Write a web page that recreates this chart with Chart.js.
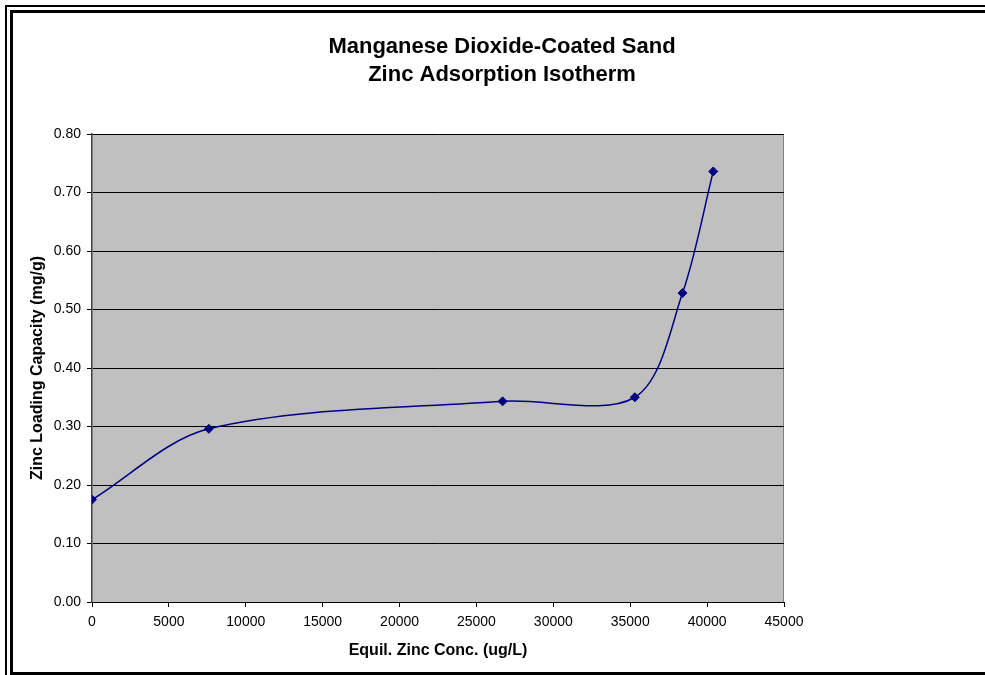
<!DOCTYPE html>
<html>
<head>
<meta charset="utf-8">
<script src="https://cdn.jsdelivr.net/npm/chart.js@4.4.1/dist/chart.umd.min.js"></script>
<style>
  html, body { margin: 0; padding: 0; background: #ffffff; }
  #wrap { width: 985px; height: 675px; position: relative; }
</style>
</head>
<body>
<div id="wrap"><canvas id="chart" width="985" height="675"></canvas></div>
<script>
// Equilibrium zinc concentration (ug/L) and zinc loading capacity (mg/g)
const concUgL = [0, 7600, 26700, 35300, 38400, 40400];
const loadingMgG = [0.175, 0.296, 0.343, 0.350, 0.528, 0.736];

const titleLines = ['Manganese Dioxide-Coated Sand', 'Zinc Adsorption Isotherm'];
const xAxisTitle = 'Equil. Zinc Conc. (ug/L)';
const yAxisTitle = 'Zinc Loading Capacity (mg/g)';

const xTickMin = 0, xTickMax = 45000, xTickStep = 5000;
const yTickMin = 0, yTickMax = 0.8, yTickStep = 0.1;

const FONT = '"Liberation Sans", Arial, sans-serif';

// Double frame, grey plot background and the two-line chart title
const decorations = {
  id: 'decorations',
  beforeDraw(chart) {
    const { ctx, chartArea: a } = chart;
    ctx.save();
    ctx.fillStyle = '#ffffff';
    ctx.fillRect(0, 0, chart.width, chart.height);
    // outer frame line
    ctx.fillStyle = '#000000';
    ctx.fillRect(5, 5, chart.width - 5, 2);
    ctx.fillRect(5, 5, 2, chart.height - 5);
    // inner frame line
    ctx.fillRect(10, 10, chart.width - 10, 3);
    ctx.fillRect(10, 10, 3, chart.height - 13);
    ctx.fillRect(10, chart.height - 3, chart.width - 10, 3);
    // plot area
    ctx.fillStyle = '#c0c0c0';
    ctx.fillRect(a.left, a.top, a.right - a.left, a.bottom - a.top);
    ctx.strokeStyle = '#808080';
    ctx.lineWidth = 1;
    ctx.beginPath();
    ctx.moveTo(a.left, a.top + 0.5);
    ctx.lineTo(a.right - 0.5, a.top + 0.5);
    ctx.lineTo(a.right - 0.5, a.bottom);
    ctx.stroke();
    // title
    ctx.fillStyle = '#000000';
    ctx.font = 'bold 22px ' + FONT;
    ctx.textAlign = 'center';
    ctx.textBaseline = 'middle';
    ctx.fillText(titleLines[0], 502, 47);
    ctx.fillText(titleLines[1], 502, 75);
    ctx.restore();
  }
};

new Chart(document.getElementById('chart'), {
  type: 'scatter',
  data: {
    datasets: [{
      data: concUgL.map((x, i) => ({ x: x, y: loadingMgG[i] })),
      showLine: true,
      borderColor: '#000080',
      borderWidth: 1.5,
      tension: 0.32,
      pointStyle: 'rectRot',
      pointRadius: 4.5,
      pointHoverRadius: 4.5,
      pointBackgroundColor: '#000080',
      pointBorderColor: '#000080',
      pointBorderWidth: 1
    }]
  },
  options: {
    responsive: false,
    animation: false,
    events: [],
    layout: { padding: { left: 0, right: 201, top: 134, bottom: 0 } },
    plugins: {
      legend: { display: false },
      title: { display: false },
      tooltip: { enabled: false }
    },
    scales: {
      x: {
        type: 'linear',
        min: xTickMin,
        max: xTickMax,
        afterFit(scale) { scale.height = 73; },
        ticks: {
          stepSize: xTickStep,
          color: '#000000',
          font: { family: FONT, size: 14 },
          padding: 7,
          maxRotation: 0,
          callback: v => String(v)
        },
        grid: {
          drawOnChartArea: false,
          drawTicks: true,
          tickLength: 5,
          color: '#000000'
        },
        border: { color: '#000000', width: 1 },
        title: {
          display: true,
          text: xAxisTitle,
          color: '#000000',
          font: { family: FONT, size: 16, weight: 'bold' },
          padding: { top: 0, bottom: 15 }
        }
      },
      y: {
        type: 'linear',
        min: yTickMin,
        max: yTickMax,
        afterFit(scale) { scale.width = 92; },
        ticks: {
          stepSize: yTickStep,
          color: '#000000',
          font: { family: FONT, size: 14 },
          padding: 6,
          callback: v => Number(v).toFixed(2)
        },
        grid: {
          drawOnChartArea: true,
          drawTicks: true,
          tickLength: 5,
          color: '#000000',
          lineWidth: 1
        },
        border: { color: '#404040', width: 1.5 },
        title: {
          display: true,
          text: yAxisTitle,
          color: '#000000',
          font: { family: FONT, size: 16, weight: 'bold' },
          padding: { top: 28, bottom: 0 }
        }
      }
    }
  },
  plugins: [decorations]
});
</script>
</body>
</html>
